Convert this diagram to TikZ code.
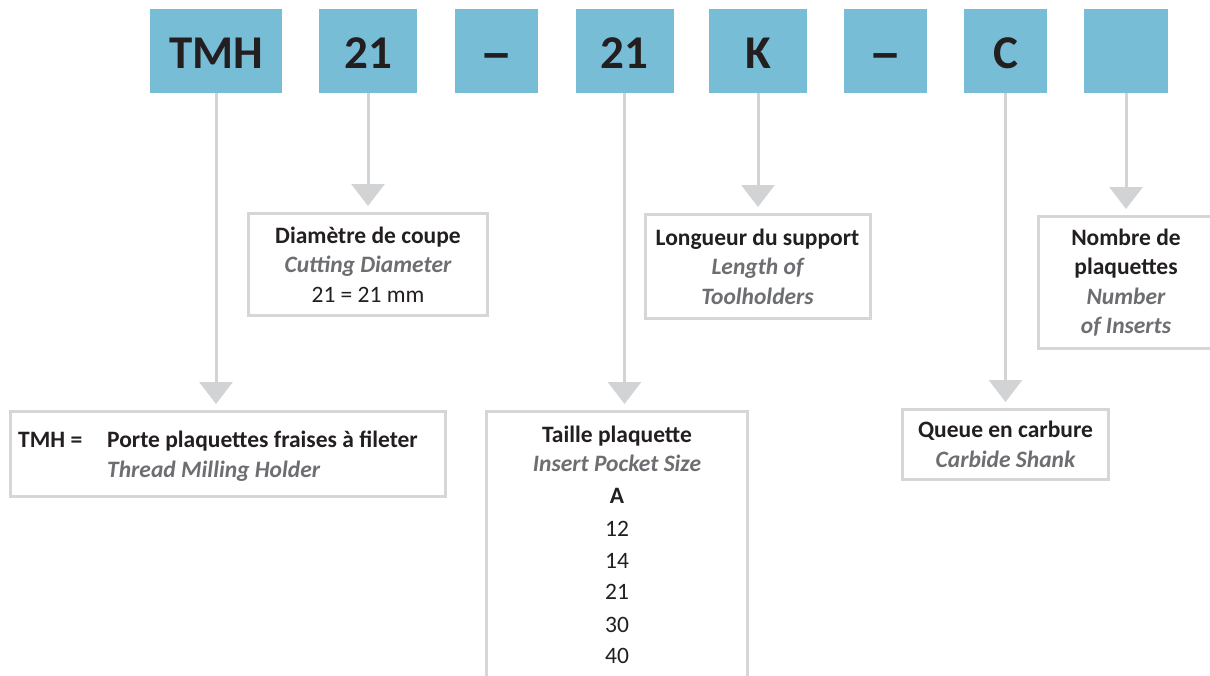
\documentclass[tikz,border=0pt]{standalone}
\usepackage{fontspec}
\setmainfont{Carlito}
\newfontfamily\dashfont{Liberation Sans}
\usetikzlibrary{arrows.meta}
\definecolor{topblue}{HTML}{78BDD6}
\definecolor{ink}{HTML}{231F20}
\definecolor{linegrey}{HTML}{D1D3D4}
\definecolor{boxgrey}{HTML}{D6D6D6}
\definecolor{itgrey}{HTML}{6D6E71}
\newcommand{\entext}[1]{{\bfseries\itshape\color{itgrey}#1}}
\begin{document}
\begin{tikzpicture}[x=1pt,y=-1pt,
  code/.style={fill=topblue, minimum height=84pt, inner sep=0pt, text=ink,
    text height=34pt, text depth=0pt,
    font=\fontsize{47}{47}\selectfont\bfseries},
  info/.style={draw=boxgrey, line width=3pt, fill=white, align=center, inner sep=0pt,
    text=ink, font=\fontsize{23.5}{29.5}\selectfont},
  plain/.style={inner sep=0pt, text=ink, font=\fontsize{23.5}{29.5}\selectfont},
  conn/.style={draw=linegrey, line width=3pt, -{Triangle[width=33pt,length=22pt]}, shorten >=6pt}]
\useasboundingbox (0,0) rectangle (1210,675);
% code boxes
\node[code, minimum width=132pt] (tmh) at (216,51) {TMH};
\node[code, minimum width=98pt] (d21) at (368,51) {21};
\node[code, minimum width=83pt] (dsh1) at (496.5,51) {\dashfont –};
\node[code, minimum width=98pt] (p21) at (624.5,51) {21};
\node[code, minimum width=98pt] (k) at (758,51) {K};
\node[code, minimum width=83pt] (dsh2) at (885.5,51) {\dashfont –};
\node[code, minimum width=83pt] (c) at (1005.5,51) {C};
\node[code, minimum width=84pt] (n) at (1126,51) {};
% info boxes
\node[info, minimum width=239pt, minimum height=102pt] (diam) at (368,264.5)
  {\textbf{Diamètre de coupe}\\ \entext{Cutting Diameter}\\ 21 = 21 mm};
\node[info, minimum width=225pt, minimum height=104pt] (long) at (757.5,266.5)
  {\textbf{Longueur du support}\\ \entext{Length of}\\ \entext{Toolholders}};
\node[info, minimum width=176pt, minimum height=132pt] (nombre) at (1126,282.5)
  {\textbf{Nombre de}\\ \textbf{plaquettes}\\ \entext{Number}\\ \entext{of Inserts}};
\node[info, minimum width=206pt, minimum height=70pt] (queue) at (1005.5,444.5)
  {\textbf{Queue en carbure}\\ \entext{Carbide Shank}};
\node[info, minimum width=435pt, minimum height=85pt] (tmhdesc) at (228,454) {};
\node[plain, anchor=west, align=left] (tmhtext) at (18,456)
  {\makebox[89pt][l]{\textbf{TMH =}}\textbf{Porte plaquettes fraises à fileter}\\
   \hspace*{89pt}\entext{Thread Milling Holder}};
\node[info, minimum width=261pt, minimum height=300pt] (taille) at (617,561.5) {};
\node[plain, anchor=base] (t1) at (617,442) {\textbf{Taille plaquette}};
\node[plain, anchor=base] (t2) at (617,471.5) {\entext{Insert Pocket Size}};
\node[plain, anchor=base] (t3) at (617,503.5) {\textbf{A}};
\node[plain, anchor=base] (t4) at (617,536) {12};
\node[plain, anchor=base] (t5) at (617,568) {14};
\node[plain, anchor=base] (t6) at (617,599.5) {21};
\node[plain, anchor=base] (t7) at (617,632) {30};
\node[plain, anchor=base] (t8) at (617,663.5) {40};
% connectors
\draw[conn] (tmh.south) -- (tmh.south |- tmhdesc.north);
\draw[conn] (d21.south) -- (d21.south |- diam.north);
\draw[conn] (p21.south) -- (p21.south |- taille.north);
\draw[conn] (k.south) -- (k.south |- long.north);
\draw[conn] (c.south) -- (c.south |- queue.north);
\draw[conn] (n.south) -- (n.south |- nombre.north);
\end{tikzpicture}
\end{document}
